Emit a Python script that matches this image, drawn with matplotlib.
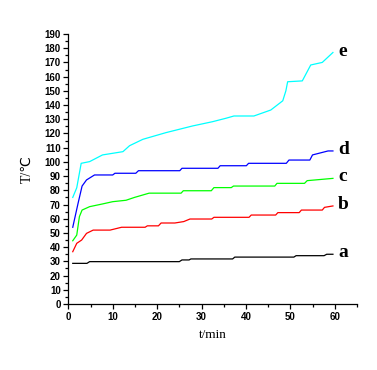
import matplotlib
matplotlib.use("Agg")
import matplotlib.pyplot as plt
from matplotlib.ticker import MultipleLocator

# time (min) and temperature (deg C)
t_a = [1.0, 4.2, 4.8, 25.0, 25.6, 27.2, 27.6, 37.0, 37.5, 50.8, 51.3, 57.6, 58.2, 59.6]
T_a = [28.6, 28.6, 29.8, 29.8, 31.0, 31.0, 31.7, 31.7, 33.0, 33.0, 34.0, 34.0, 35.0, 35.0]

t_b = [1.0, 1.9, 3.0, 4.1, 5.6, 9.4, 12.0, 17.3, 17.8, 20.3, 20.9, 24.0, 26.0, 27.4,
       32.3, 32.8, 40.7, 41.2, 46.7, 47.2, 52.0, 52.5, 57.2, 57.7, 59.6]
T_b = [36.8, 42.7, 45.0, 49.7, 52.0, 52.0, 54.0, 54.0, 55.0, 55.0, 57.0, 57.0, 58.0, 59.8,
       59.8, 61.0, 61.0, 62.6, 62.6, 64.3, 64.3, 66.1, 66.1, 68.0, 69.0]

t_c = [1.0, 1.9, 2.5, 3.1, 4.8, 7.7, 10.0, 13.0, 14.9, 18.2, 25.4, 25.9, 32.2, 32.8,
       36.7, 37.2, 46.5, 47.0, 53.2, 53.8, 59.6]
T_c = [44.5, 48.5, 61.5, 66.1, 68.5, 70.4, 72.0, 73.0, 75.0, 78.0, 78.0, 79.7, 79.7, 81.9,
       81.9, 83.0, 83.0, 84.9, 84.9, 86.8, 88.4]

t_d = [1.0, 2.2, 3.1, 4.1, 5.9, 10.0, 10.5, 15.2, 15.8, 25.1, 25.6, 33.7, 34.2, 40.1,
       40.6, 49.1, 49.7, 54.4, 55.0, 58.5, 59.6]
T_d = [54.0, 70.9, 83.0, 87.3, 90.8, 90.8, 92.0, 92.0, 93.8, 93.8, 95.5, 95.5, 97.3, 97.3,
       99.0, 99.0, 101.3, 101.3, 104.9, 107.7, 107.7]

t_e = [1.0, 1.9, 2.9, 4.8, 7.7, 12.3, 13.8, 16.8, 22.0, 28.0, 32.5, 35.5, 37.3, 41.8,
       45.6, 48.3, 49.0, 49.4, 52.7, 54.6, 57.2, 59.6]
T_e = [75.0, 81.8, 99.0, 100.2, 104.9, 107.2, 111.4, 115.9, 120.6, 125.3, 128.3, 130.7,
       132.3, 132.3, 136.5, 143.0, 150.0, 156.4, 157.0, 168.2, 170.0, 177.0]

series = [
    ("a", t_a, T_a, "black"),
    ("b", t_b, T_b, "#ff0000"),
    ("c", t_c, T_c, "#00ff00"),
    ("d", t_d, T_d, "#0000ff"),
    ("e", t_e, T_e, "#00ffff"),
]

fig = plt.figure(figsize=(3.77, 3.70), dpi=100)
ax = fig.add_axes([0.1812, 0.1784, 0.7655, 0.7297])

for name, t, T, col in series:
    ax.plot(t, T, color=col, linewidth=0.9)
    ax.text(60.8, T[-1] + 1.0, name, fontsize=14, fontweight="bold",
            family="Liberation Serif", va="center", ha="left")

ax.set_xlim(0, 65)
ax.set_ylim(0, 190)
ax.xaxis.set_major_locator(MultipleLocator(10))
ax.xaxis.set_minor_locator(MultipleLocator(5))
ax.yaxis.set_major_locator(MultipleLocator(10))
ax.yaxis.set_minor_locator(MultipleLocator(5))

for s in ("top", "right"):
    ax.spines[s].set_visible(False)
for s in ("left", "bottom"):
    ax.spines[s].set_linewidth(0.9)

ax.tick_params(which="major", length=3.5, width=0.9, direction="out", pad=2)
ax.tick_params(which="minor", length=2, width=0.9, direction="out")
for lab in ax.get_xticklabels() + ax.get_yticklabels():
    lab.set_fontsize(7)
    lab.set_fontweight("bold")
    lab.set_family("Liberation Sans")

ax.set_xlabel("t/min", fontsize=9.5, family="Liberation Serif", labelpad=5)
ax.set_ylabel("T/℃", fontsize=10, family=["Liberation Serif", "DejaVu Sans"], labelpad=8)

fig.savefig("out.png", dpi=100)
